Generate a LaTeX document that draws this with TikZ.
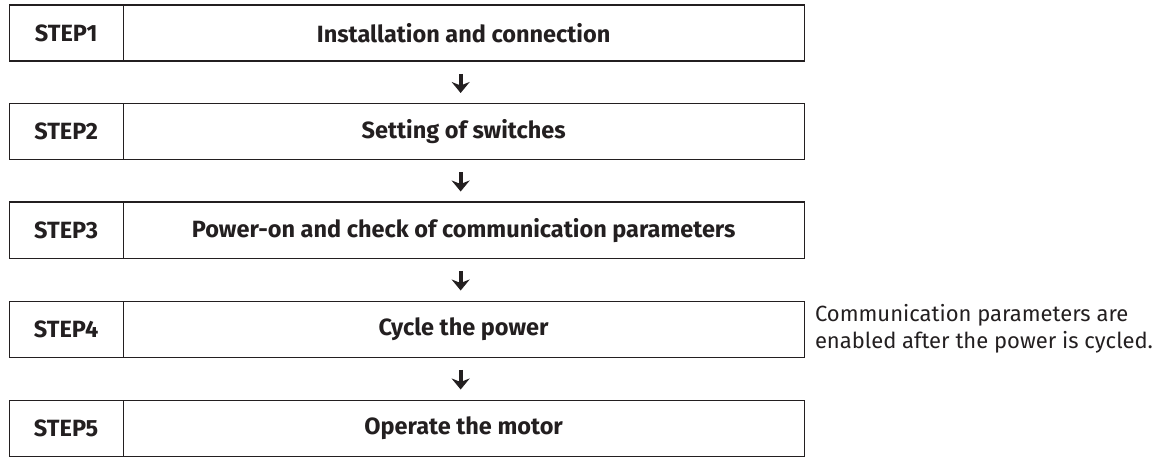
\documentclass[tikz,border=0pt]{standalone}
\usepackage{fontspec}
\setmainfont{Fira Sans}
\usetikzlibrary{arrows.meta}
\definecolor{ink}{HTML}{231F20}
\begin{document}
\begin{tikzpicture}[x=1pt,y=-1pt,
  cellbox/.style={draw=ink,line width=1.3pt,minimum height=56pt,inner sep=0pt,anchor=north west,text=ink,font=\fontsize{23.5}{28}\selectfont\bfseries},
  labelcell/.style={cellbox,minimum width=114pt},
  textcell/.style={cellbox,minimum width=681pt},
  flowarrow/.style={draw=ink,line width=4.2pt,-{Stealth[length=11pt,width=18pt,inset=3.5pt]},shorten <=12pt,shorten >=10pt}]
\useasboundingbox (0,0) rectangle (1162,457);
\foreach \i/\y/\t in {1/4.5/Installation and connection,2/103/Setting of switches,3/201.5/Power-on and check of communication parameters,4/300.5/Cycle the power,5/399.5/Operate the motor}{
  \node[labelcell] (s\i) at (8.5,\y) {STEP\i};
  \node[textcell] (t\i) at (122.5,\y) {\t};
}
\foreach \a/\b in {1/2,2/3,3/4,4/5}{
  \draw[flowarrow] ([xshift=-3pt]t\a.south) -- ([xshift=-3pt]t\b.north);
}
\node[anchor=west,align=left,text=ink,inner sep=0pt,font=\fontsize{22}{27}\selectfont] (note) at ([xshift=10pt]t4.east) {Communication parameters are\\enabled after the power is cycled.};
\end{tikzpicture}
\end{document}
